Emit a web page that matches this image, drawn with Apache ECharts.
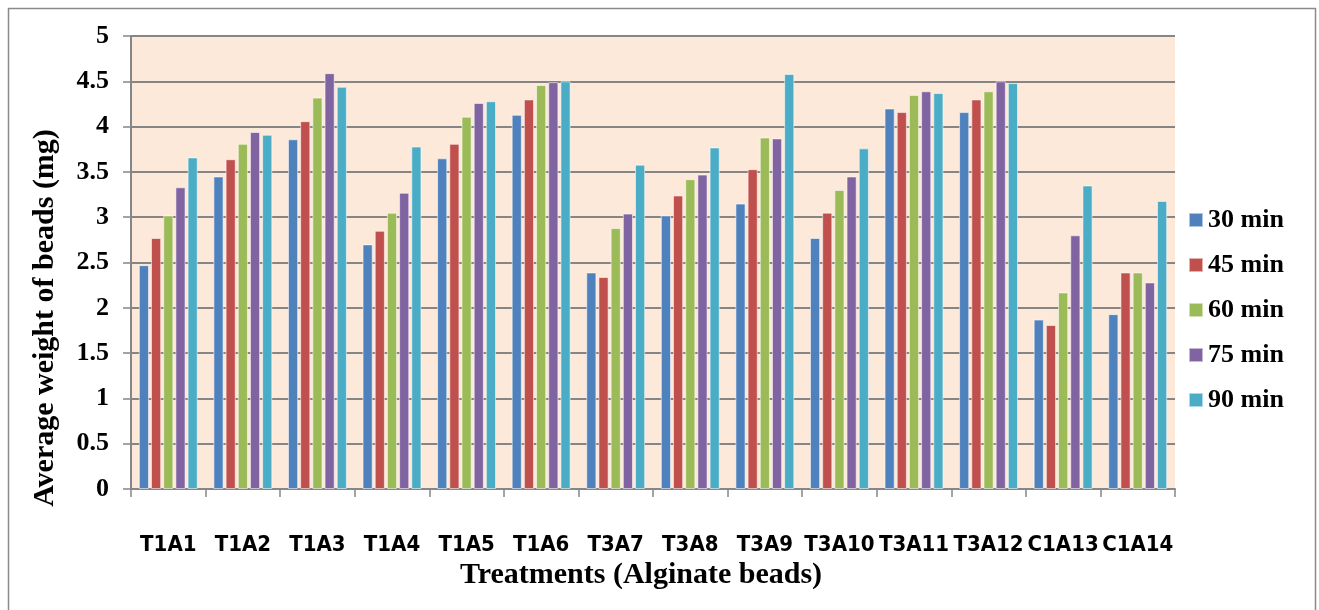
<!DOCTYPE html>
<html>
<head>
<meta charset="utf-8">
<script src="https://cdn.jsdelivr.net/npm/echarts@6/dist/echarts.min.js"></script>
<style>
html,body{margin:0;padding:0;background:#fff;}
#chart{width:1319px;height:610px;}
</style>
</head>
<body>
<div id="chart"></div>
<script>
const categories = ['T1A1','T1A2','T1A3','T1A4','T1A5','T1A6','T3A7','T3A8','T3A9','T3A10','T3A11','T3A12','C1A13','C1A14'];
const seriesNames = ['30 min','45 min','60 min','75 min','90 min'];
const min30 = [2.47,3.45,3.86,2.70,3.65,4.13,2.39,3.02,3.15,2.77,4.20,4.16,1.87,1.93];
const min45 = [2.77,3.64,4.06,2.85,3.81,4.30,2.34,3.24,3.53,3.05,4.16,4.30,1.81,2.39];
const min60 = [3.02,3.81,4.32,3.05,4.11,4.46,2.88,3.42,3.88,3.30,4.35,4.39,2.17,2.39];
const min75 = [3.33,3.94,4.59,3.27,4.26,4.49,3.04,3.47,3.87,3.45,4.39,4.50,2.80,2.28];
const min90 = [3.66,3.91,4.44,3.78,4.28,4.50,3.58,3.77,4.58,3.76,4.37,4.48,3.35,3.18];
const colors = ['#4F81BD','#C0504D','#9BBB59','#8064A2','#4BACC6'];
const yAxisTitle = 'Average weight of beads (mg)';
const xAxisTitle = 'Treatments (Alginate beads)';

const allData = [min30, min45, min60, min75, min90];
const serif = "'Liberation Serif','Times New Roman',serif";

const chart = echarts.init(document.getElementById('chart'), null, {renderer:'canvas'});
chart.setOption({
  animation:false,
  backgroundColor:'#ffffff',
  color:colors,
  graphic:[
    {
      type:'rect', left:6, top:6,
      shape:{width:1307, height:620},
      style:{fill:'none', stroke:'#8a8a8a', lineWidth:1.5},
      silent:true, z:-10
    },
    {
      type:'text', x:45, y:318, rotation:Math.PI/2,
      style:{text:yAxisTitle, fontFamily:serif, fontWeight:'bold', fontSize:30, fill:'#000', align:'center', verticalAlign:'middle'},
      silent:true
    },
    {
      type:'text', x:641, y:575,
      style:{text:xAxisTitle, fontFamily:serif, fontWeight:'bold', fontSize:30, fill:'#000', align:'center', verticalAlign:'middle'},
      silent:true
    }
  ],
  grid:{left:131, right:144, top:36, bottom:121, show:true, backgroundColor:'#FDE9D9', borderWidth:0},
  legend:{
    orient:'vertical', left:1188, top:207, padding:0,
    itemWidth:14, itemHeight:14, itemGap:19,
    icon:'rect',
    textStyle:{fontFamily:serif, fontWeight:'bold', fontSize:26, color:'#000', lineHeight:26},
    data:seriesNames
  },
  xAxis:{
    type:'category', data:categories,
    axisLine:{lineStyle:{color:'#868686', width:2}},
    axisTick:{show:true, length:8, alignWithLabel:false, lineStyle:{color:'#868686', width:1.5}},
    axisLabel:{interval:0, margin:45, fontFamily:"'DejaVu Sans Condensed','DejaVu Sans',sans-serif", fontWeight:'bold', fontSize:22, color:'#000'}
  },
  yAxis:{
    type:'value', min:0, max:5, interval:0.5,
    axisLine:{show:true, lineStyle:{color:'#868686', width:2}},
    axisTick:{show:true, length:8, lineStyle:{color:'#868686', width:1.5}},
    axisLabel:{margin:22, fontFamily:serif, fontWeight:'bold', fontSize:26, color:'#000'},
    splitLine:{show:true, lineStyle:{color:'#858585', width:2}}
  },
  series: allData.map((d,i)=>({
    name:seriesNames[i], type:'bar', data:d,
    barGap:'20%', barCategoryGap:'21%',
    itemStyle:{color:colors[i], borderColor:'rgba(255,255,255,0.55)', borderWidth:1}
  }))
});
</script>
</body>
</html>
